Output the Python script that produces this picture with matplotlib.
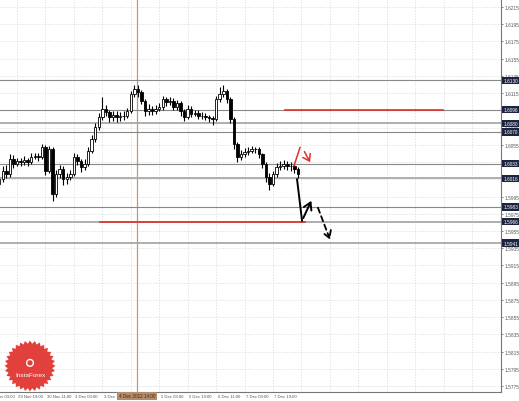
import numpy as np
import matplotlib.pyplot as plt
import matplotlib.transforms as mtransforms
from matplotlib.patches import Polygon, Circle

plt.rcParams['font.family'] = ['Liberation Sans', 'DejaVu Sans']

# H1 chart, candles grouped by 2 hours, x in hours from 29 Nov 19:00
bar_hours = np.arange(-10, 160, 2)
first_open = 1.6010
closes = [1.6015, 1.6025, 1.6021, 1.6039, 1.6033, 1.6036, 1.6035, 1.6037, 1.6035, 1.6041,
          1.6042, 1.6041, 1.6052, 1.6025, 1.6050, 1.5998, 1.6021, 1.6027, 1.6015, 1.6018,
          1.6021, 1.6041, 1.6036, 1.6029, 1.6033, 1.6048, 1.6062, 1.6076, 1.6087, 1.6097,
          1.6093, 1.6087, 1.6090, 1.6087, 1.6089, 1.6089, 1.6094, 1.6114, 1.6120, 1.6116,
          1.6106, 1.6094, 1.6097, 1.6094, 1.6097, 1.6099, 1.6108, 1.6105, 1.6106, 1.6099,
          1.6103, 1.6094, 1.6087, 1.6097, 1.6091, 1.6092, 1.6089, 1.6089, 1.6087, 1.6086,
          1.6085, 1.6108, 1.6114, 1.6117, 1.6108, 1.6085, 1.6056, 1.6041, 1.6044, 1.6047,
          1.6048, 1.6050, 1.6050, 1.6044, 1.6033, 1.6018, 1.6010, 1.6021, 1.6029, 1.6031,
          1.6033, 1.6030, 1.6031, 1.6027, 1.6021]
highs = [1.6020, 1.6030, 1.6032, 1.6044, 1.6043, 1.6040, 1.6040, 1.6042, 1.6040, 1.6045,
         1.6046, 1.6045, 1.6056, 1.6055, 1.6054, 1.6052, 1.6026, 1.6032, 1.6030, 1.6022,
         1.6026, 1.6045, 1.6044, 1.6038, 1.6038, 1.6052, 1.6066, 1.6080, 1.6092, 1.6111,
         1.6101, 1.6096, 1.6094, 1.6094, 1.6093, 1.6094, 1.6098, 1.6118, 1.6125, 1.6124,
         1.6119, 1.6108, 1.6102, 1.6100, 1.6101, 1.6104, 1.6112, 1.6111, 1.6110, 1.6109,
         1.6107, 1.6106, 1.6097, 1.6101, 1.6100, 1.6096, 1.6095, 1.6093, 1.6092, 1.6090,
         1.6089, 1.6112, 1.6122, 1.6124, 1.6120, 1.6110, 1.6087, 1.6058, 1.6049, 1.6051,
         1.6052, 1.6054, 1.6053, 1.6052, 1.6046, 1.6035, 1.6022, 1.6025, 1.6034, 1.6036,
         1.6037, 1.6036, 1.6035, 1.6034, 1.6029]
lows = [1.6005, 1.6012, 1.6016, 1.6018, 1.6028, 1.6030, 1.6031, 1.6032, 1.6030, 1.6033,
        1.6038, 1.6036, 1.6038, 1.6020, 1.6022, 1.5990, 1.5994, 1.6017, 1.6008, 1.6010,
        1.6014, 1.6019, 1.6032, 1.6024, 1.6026, 1.6030, 1.6045, 1.6058, 1.6072, 1.6084,
        1.6088, 1.6082, 1.6083, 1.6082, 1.6083, 1.6084, 1.6086, 1.6092, 1.6110, 1.6111,
        1.6102, 1.6089, 1.6090, 1.6090, 1.6091, 1.6094, 1.6096, 1.6100, 1.6101, 1.6095,
        1.6096, 1.6088, 1.6083, 1.6085, 1.6087, 1.6088, 1.6085, 1.6085, 1.6084, 1.6082,
        1.6078, 1.6083, 1.6105, 1.6110, 1.6104, 1.6080, 1.6050, 1.6035, 1.6037, 1.6041,
        1.6043, 1.6045, 1.6046, 1.6040, 1.6028, 1.6012, 1.6003, 1.6007, 1.6018, 1.6026,
        1.6027, 1.6026, 1.6025, 1.6022, 1.6017]

# horizontal levels with their price tags
level_prices = [1.6130, 1.6096, 1.6080, 1.6070, 1.6033, 1.6016, 1.5983, 1.5966, 1.5941]
level_light = [False, False, True, False, False, True, False, True, True]

# red segments: price, start hour, end hour
red_prices = [1.6096, 1.5966]
red_start = [150.7, 46.7]
red_end = [239.6, 162.0]

# forecast arrows (hour, price)
black_leg_h = [157.5, 160.3]
black_leg_p = [1.6015, 1.5967]
black_up = [(160.3, 1.5967), (166.2, 1.5993)]
black_down = [(168.7, 1.5985), (176.6, 1.5942)]
red_leg_h = [155.8, 159.2]
red_leg_p = [1.6031, 1.6052]
red_down = [(160.9, 1.6050), (165.6, 1.6032)]

# the 4 Dec 11:00 label sits under the cursor box, so it is left out
time_ticks = [-16, 0, 16, 32, 48, 80, 96, 112, 128, 144]
time_labels = ["29 Nov 03:00", "29 Nov 19:00", "30 Nov 11:00", "3 Dec 03:00", "3 Dec 19:00",
               "5 Dec 03:00", "5 Dec 19:00", "6 Dec 11:00", "7 Dec 03:00", "7 Dec 19:00"]
grid_hours = [-16, 0, 16, 32, 48, 64, 80, 96, 112, 128, 144, 160, 176, 192, 208, 224, 240, 256, 272]
price_ticks = [1.5775, 1.5795, 1.5815, 1.5835, 1.5855, 1.5875, 1.5895, 1.5915, 1.5935,
               1.5955, 1.5975, 1.5995, 1.6015, 1.6035, 1.6055, 1.6075, 1.6095, 1.6115,
               1.6135, 1.6155, 1.6175, 1.6195, 1.6215]
cursor_hour = 67.5
cursor_label = "4 Dec 2012 14:00"

W, H = 519, 402
fig = plt.figure(figsize=(W / 100, H / 100), dpi=100)
ax = fig.add_axes([0, 1 - 393 / H, 501 / W, 393 / H])
ax.set_xlim(-9.56, 272.2)
ax.set_ylim(1.57681, 1.62243)

# grid
for t in grid_hours:
    ax.axvline(t, color='#d8d8d8', lw=0.5, ls=(0, (2, 2)), zorder=0)
for p in price_ticks:
    ax.axhline(p, color='#d8d8d8', lw=0.5, ls=(0, (2, 2)), zorder=0)

# cursor line
ax.axvline(cursor_hour, color='#c8956a', lw=0.9, zorder=1)

# levels
for p, light in zip(level_prices, level_light):
    if light:
        ax.axhline(p, color='#a8a8a8', lw=1.3, zorder=1)
    else:
        ax.axhline(p, color='#888888', lw=0.8, zorder=1)
for p, s, e in zip(red_prices, red_start, red_end):
    ax.plot([s, e], [p, p], color='#e0302a', lw=1.2, zorder=2)

# candles
opens = [first_open] + closes[:-1]
o = np.array(opens)
c = np.array(closes)
up = c >= o
ax.vlines(bar_hours, lows, highs, color='black', lw=0.8, zorder=3)
ax.bar(bar_hours[up], (c - o)[up], bottom=o[up], width=1.4, color='white',
       edgecolor='black', linewidth=0.6, zorder=4)
ax.bar(bar_hours[~up], (o - c)[~up], bottom=c[~up], width=1.4, color='black',
       edgecolor='black', linewidth=0.6, zorder=4)

# arrows
ax.plot(black_leg_h, black_leg_p, color='black', lw=1.4, zorder=5)
ax.annotate('', xy=black_up[1], xytext=black_up[0],
            arrowprops=dict(arrowstyle='->,head_length=0.5,head_width=0.3', color='black', lw=1.4))
ax.annotate('', xy=black_down[1], xytext=black_down[0],
            arrowprops=dict(arrowstyle='->,head_length=0.5,head_width=0.3', color='black', lw=1.3,
                            linestyle=(0, (3, 2))))
ax.plot(red_leg_h, red_leg_p, color='#e0302a', lw=1.1, zorder=5)
ax.annotate('', xy=red_down[1], xytext=red_down[0],
            arrowprops=dict(arrowstyle='->,head_length=0.45,head_width=0.3', color='#e0302a', lw=1.1))

# axes frame
for side in ['top', 'left']:
    ax.spines[side].set_visible(False)
for side in ['right', 'bottom']:
    ax.spines[side].set_color('#777777')
    ax.spines[side].set_linewidth(0.8)
ax.set_xticks([])
ax.yaxis.tick_right()
ax.set_yticks(price_ticks)
ax.set_yticklabels([f"{p:.4f}" for p in price_ticks], fontsize=3.4, color='#555555')
ax.tick_params(axis='y', length=1.5, width=0.5, pad=1, colors='#555555')

# time labels
bt = mtransforms.blended_transform_factory(ax.transData, ax.transAxes)
for t, lab in zip(time_ticks, time_labels):
    ax.text(t + 0.8, -0.004, lab, transform=bt, ha='left', va='top', fontsize=3.1,
            color='#555555', clip_on=False)
ax.text(cursor_hour, -0.003, cursor_label, transform=bt, ha='center', va='top',
        fontsize=3.3, color='#3a2a1a', clip_on=False, zorder=10,
        bbox=dict(boxstyle='square,pad=0.3', fc='#b48c6c', ec='none'))

# price tags
rt = mtransforms.blended_transform_factory(ax.transAxes, ax.transData)
for p in level_prices:
    ax.text(1.005, p, f"{p:.4f}", transform=rt, ha='left', va='center', fontsize=3.4,
            color='white', clip_on=False, zorder=10,
            bbox=dict(boxstyle='square,pad=0.25', fc='#1d2440', ec='none'))

# logo
lax = fig.add_axes([4 / W, 1 - 393 / H, 52 / W, 52 / H])
lax.set_xlim(-1, 1)
lax.set_ylim(-1, 1)
lax.axis('off')
n = 32
ang = np.linspace(0, 2 * np.pi, 2 * n, endpoint=False)
rad = np.where(np.arange(2 * n) % 2 == 0, 0.98, 0.86)
lax.add_patch(Polygon(np.column_stack([rad * np.cos(ang), rad * np.sin(ang)]),
                      closed=True, fc='#e2403c', ec='none'))
lax.add_patch(Circle((0, 0.12), 0.13, fc='none', ec='white', lw=1.0))
lax.text(0, -0.32, "InstaForex", ha='center', va='center', fontsize=4.6, color='white')

fig.savefig('out.png', dpi=100)
